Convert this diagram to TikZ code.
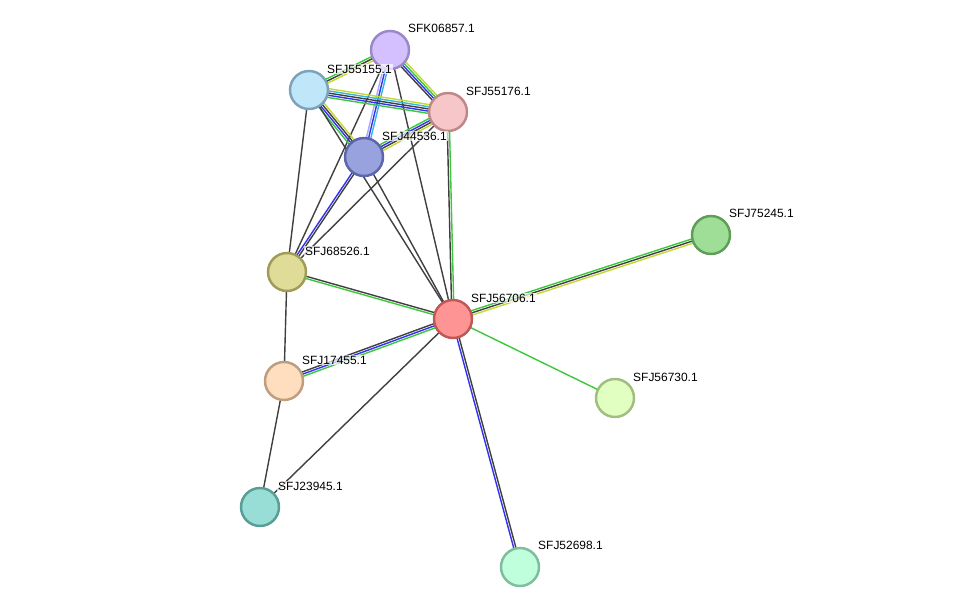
\documentclass[tikz,border=0pt]{standalone}
\usepackage{fontspec}
\setmainfont{Liberation Sans}
\usetikzlibrary{calc,backgrounds}

\definecolor{sgreen}{HTML}{3CC83C}
\definecolor{sblue}{HTML}{3232F0}
\definecolor{sblack}{HTML}{404040}
\definecolor{syellow}{HTML}{C4D834}
\definecolor{scyan}{HTML}{34B8DC}
\definecolor{slav}{HTML}{A8A8FF}

% parallel evidence lines between two proteins
\newcommand\link[3]{%
  \foreach \col [count=\n] in {#3} {\xdef\nlines{\n}}
  \foreach \col [count=\k] in {#3} {
    \pgfmathsetmacro\off{(\k-(\nlines+1)/2)*1.25}
    \draw[edge,\col] ($(#1.center)!\off pt!90:(#2.center)$) --
      ($(#2.center)!\off pt!-90:(#1.center)$);
  }}

\begin{document}
\begin{tikzpicture}[
  x=0.02cm, y=-0.02cm,
  prot/.style={draw, circle, inner sep=0pt, minimum size=0.76cm, line width=1.4pt},
  edge/.style={line width=0.8pt},
  lab/.style={anchor=west, inner sep=0.5pt, fill=white, fill opacity=0.7, text opacity=1,
    font=\fontsize{6.8}{8}\selectfont}]

  \useasboundingbox (0,0) rectangle (975,612);

  % proteins
  \node[prot, fill={rgb,255:red,212;green,192;blue,255}, draw={rgb,255:red,154;green,136;blue,200}] (k06857) at (390,50) {};
  \node[prot, fill={rgb,255:red,192;green,230;blue,250}, draw={rgb,255:red,124;green,162;blue,188}] (j55155) at (309,90) {};
  \node[prot, fill={rgb,255:red,246;green,198;blue,200}, draw={rgb,255:red,190;green,136;blue,138}] (j55176) at (448,112) {};
  \node[prot, fill={rgb,255:red,152;green,162;blue,222}, draw={rgb,255:red,92;green,102;blue,168}] (j44536) at (364,157) {};
  \node[prot, fill={rgb,255:red,222;green,220;blue,150}, draw={rgb,255:red,158;green,156;blue,88}] (j68526) at (287,272) {};
  \node[prot, fill={rgb,255:red,255;green,148;blue,148}, draw={rgb,255:red,192;green,88;blue,88}] (j56706) at (453,319) {};
  \node[prot, fill={rgb,255:red,158;green,222;blue,150}, draw={rgb,255:red,94;green,158;blue,88}] (j75245) at (711,235) {};
  \node[prot, fill={rgb,255:red,255;green,222;blue,192}, draw={rgb,255:red,190;green,158;blue,126}] (j17455) at (284,381) {};
  \node[prot, fill={rgb,255:red,224;green,255;blue,192}, draw={rgb,255:red,160;green,190;blue,128}] (j56730) at (615,398) {};
  \node[prot, fill={rgb,255:red,152;green,222;blue,214}, draw={rgb,255:red,88;green,158;blue,150}] (j23945) at (260,507) {};
  \node[prot, fill={rgb,255:red,192;green,255;blue,220}, draw={rgb,255:red,126;green,190;blue,156}] (j52698) at (520,567) {};

  % interactions
  \begin{pgfonlayer}{background}
    \link{k06857}{j55155}{sgreen,sblack,syellow}
    \link{k06857}{j55176}{sblack,sblue,sgreen,syellow}
    \link{k06857}{j44536}{slav,sblue,scyan}
    \link{k06857}{j68526}{sblack}
    \link{k06857}{j56706}{sblack}
    \link{j55155}{j55176}{sgreen,sblue,sblack,scyan,syellow}
    \link{j55155}{j44536}{sgreen,sblue,sblack,syellow}
    \link{j55155}{j68526}{sblack}
    \link{j55155}{j56706}{sblack}
    \link{j55176}{j44536}{sgreen,sblue,sblack,syellow}
    \link{j55176}{j68526}{sblack}
    \link{j55176}{j56706}{sblack,sgreen}
    \link{j44536}{j68526}{sblue,sblack}
    \link{j44536}{j56706}{sblack}
    \link{j68526}{j56706}{sgreen,sblack}
    \link{j68526}{j17455}{sblack}
    \link{j56706}{j75245}{syellow,sblack,sgreen}
    \link{j56706}{j17455}{sblack,sblue,sgreen}
    \link{j56706}{j56730}{sgreen}
    \link{j56706}{j23945}{sblack}
    \link{j56706}{j52698}{sblue,sblack}
    \link{j17455}{j23945}{sblack}
  \end{pgfonlayer}

  % labels
  \node[lab] (lk06857) at ($(k06857)+(17,-22)$) {SFK06857.1};
  \node[lab] (lj55155) at ($(j55155)+(17,-21)$) {SFJ55155.1};
  \node[lab] (lj55176) at ($(j55176)+(17,-21)$) {SFJ55176.1};
  \node[lab] (lj44536) at ($(j44536)+(17,-21)$) {SFJ44536.1};
  \node[lab] (lj68526) at ($(j68526)+(17,-21)$) {SFJ68526.1};
  \node[lab] (lj56706) at ($(j56706)+(17,-21)$) {SFJ56706.1};
  \node[lab] (lj75245) at ($(j75245)+(17,-22)$) {SFJ75245.1};
  \node[lab] (lj17455) at ($(j17455)+(17,-21)$) {SFJ17455.1};
  \node[lab] (lj56730) at ($(j56730)+(17,-21)$) {SFJ56730.1};
  \node[lab] (lj23945) at ($(j23945)+(17,-21)$) {SFJ23945.1};
  \node[lab] (lj52698) at ($(j52698)+(17,-22)$) {SFJ52698.1};
\end{tikzpicture}
\end{document}
